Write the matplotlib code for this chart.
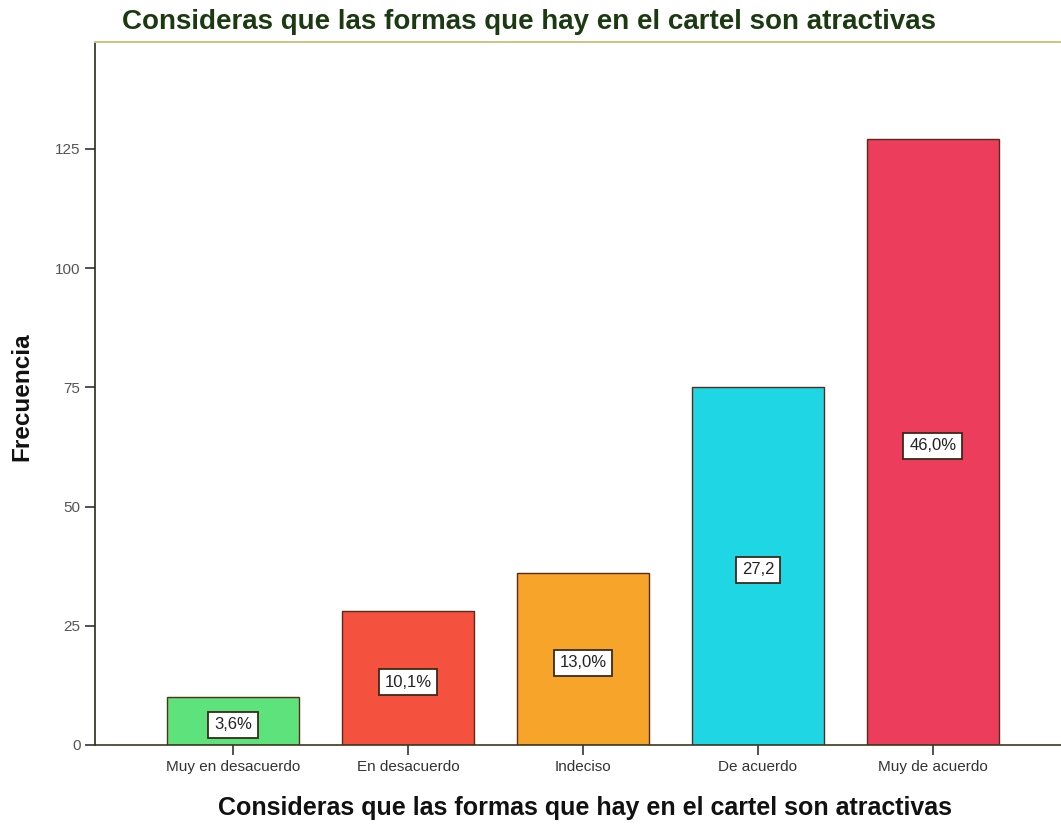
import matplotlib.pyplot as plt
import numpy as np

categorias = ['Muy en desacuerdo', 'En desacuerdo', 'Indeciso', 'De acuerdo', 'Muy de acuerdo']
frecuencias = np.array([10, 28, 36, 75, 127])
etiquetas = ['3,6%', '10,1%', '13,0%', '27,2', '46,0%']
colores = ['#5ee37c', '#f5513f', '#f7a52a', '#1fd6e4', '#ec3d5c']

titulo = 'Consideras que las formas que hay en el cartel son atractivas'

plt.rcParams['font.family'] = ['Liberation Sans', 'DejaVu Sans']

fig = plt.figure(figsize=(10.61, 8.26), dpi=100)
# el eje derecho queda cortado como en la captura original
ax = fig.add_axes([95 / 1061, 1 - 745 / 826, 976 / 1061, 703 / 826])

x = np.arange(len(categorias))
ax.bar(x, frecuencias, width=0.755, color=colores, edgecolor='#5a2a1a', linewidth=1.0, zorder=2)

for xi, v, txt in zip(x, frecuencias, etiquetas):
    ax.text(xi, v / 2 - 0.8, txt, ha='center', va='center', fontsize=12, color='#222222',
            bbox=dict(boxstyle='square,pad=0.35', facecolor='white', edgecolor='#3a2a1a', linewidth=1.3),
            zorder=3)

ax.set_xlim(-0.79, 4.79)
ax.set_ylim(0, 147.4)
ax.set_xticks(x)
ax.set_xticklabels(categorias, fontsize=11, color='#333333')
ax.set_yticks([0, 25, 50, 75, 100, 125])
ax.tick_params(axis='y', labelsize=11, labelcolor='#555555', length=7, width=1.2, color='#333333')
ax.tick_params(axis='x', length=7, width=1.2, color='#333333', pad=4)

ax.spines['left'].set_color('#2a2a1a')
ax.spines['left'].set_linewidth(1.2)
ax.spines['bottom'].set_color('#3a3a20')
ax.spines['bottom'].set_linewidth(1.2)
ax.spines['top'].set_color('#c9c68a')
ax.spines['top'].set_linewidth(1.5)
ax.spines['right'].set_visible(False)

ax.set_xlabel(titulo, fontsize=18, fontweight='bold', color='#111111')
ax.xaxis.set_label_coords((585 - 95) / 976, -(796 - 745) / 703)
ax.set_ylabel('Frecuencia', fontsize=17.5, fontweight='bold', color='#111111')
ax.yaxis.set_label_coords(-(95 - 33) / 976, (745 - 397) / 703)

fig.text(122 / 1061, 1 - 22 / 826, titulo, fontsize=20, fontweight='bold', color='#1b3a12',
         ha='left', va='center')

fig.savefig('out.png', dpi=100)
